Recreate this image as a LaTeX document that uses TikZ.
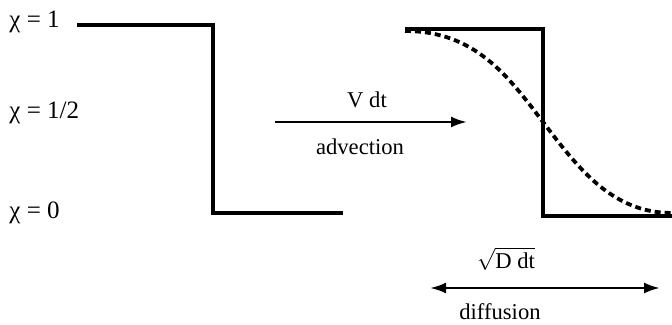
\documentclass[tikz,border=0pt]{standalone}
\usepackage{fontspec}
\setmainfont{Liberation Serif}
\usetikzlibrary{arrows.meta}
\begin{document}
\begin{tikzpicture}[x=0.5pt,y=-0.5pt,
  lbl/.style={inner sep=0pt,font=\fontsize{11.3}{13}\selectfont},
  chi/.style={inner sep=0pt,font=\fontsize{12.5}{14}\selectfont},
  solidline/.style={line width=1.8pt,line join=miter},
  dashline/.style={line width=1.9pt,dash pattern=on 3pt off 2pt},
  arr/.style={line width=1.3pt,-{Latex[length=8pt,width=5.5pt]}},
  darr/.style={line width=1.3pt,{Latex[length=8pt,width=5.5pt]}-{Latex[length=8pt,width=5.5pt]}}]
\useasboundingbox (0,0) rectangle (672,325);
% labels
\node[chi,anchor=west] (c1) at (9,22) {χ = 1};
\node[chi,anchor=west] (ch) at (9,113) {χ = 1/2};
\node[chi,anchor=west] (c0) at (9,213) {χ = 0};
% left step
\coordinate (a1) at (77,25);
\coordinate (a2) at (213,25);
\coordinate (a3) at (213,213);
\coordinate (a4) at (343,213);
\draw[solidline] (a1) -- (a2) -- (a3) -- (a4);
% advection arrow
\coordinate (v1) at (275,122);
\coordinate (v2) at (467,122);
\draw[arr] (v1) -- (v2);
\node[lbl] (vdt) at (367,100) {V dt};
\node[lbl] (adv) at (360,147) {advection};
% right step
\coordinate (b1) at (405,29);
\coordinate (b2) at (543,29);
\coordinate (b3) at (543,216);
\coordinate (b4) at (672,216);
\draw[solidline] (b1) -- (b2) -- (b3) -- (b4);
% diffused profile
\coordinate (d0) at (405,31);
\coordinate (dm) at (543,122);
\coordinate (d1) at (672,213);
\draw[dashline] (d0) .. controls (475,31) and (508,76) .. (dm) .. controls (578,168) and (612,213) .. (d1);
% diffusion arrow
\coordinate (w1) at (430,288);
\coordinate (w2) at (660,288);
\draw[darr] (w1) -- (w2);
\node[lbl] (sq) at (506,259) {$\sqrt{\mbox{D dt}}$};
\node[lbl] (dif) at (500,312) {diffusion};
\end{tikzpicture}
\end{document}
